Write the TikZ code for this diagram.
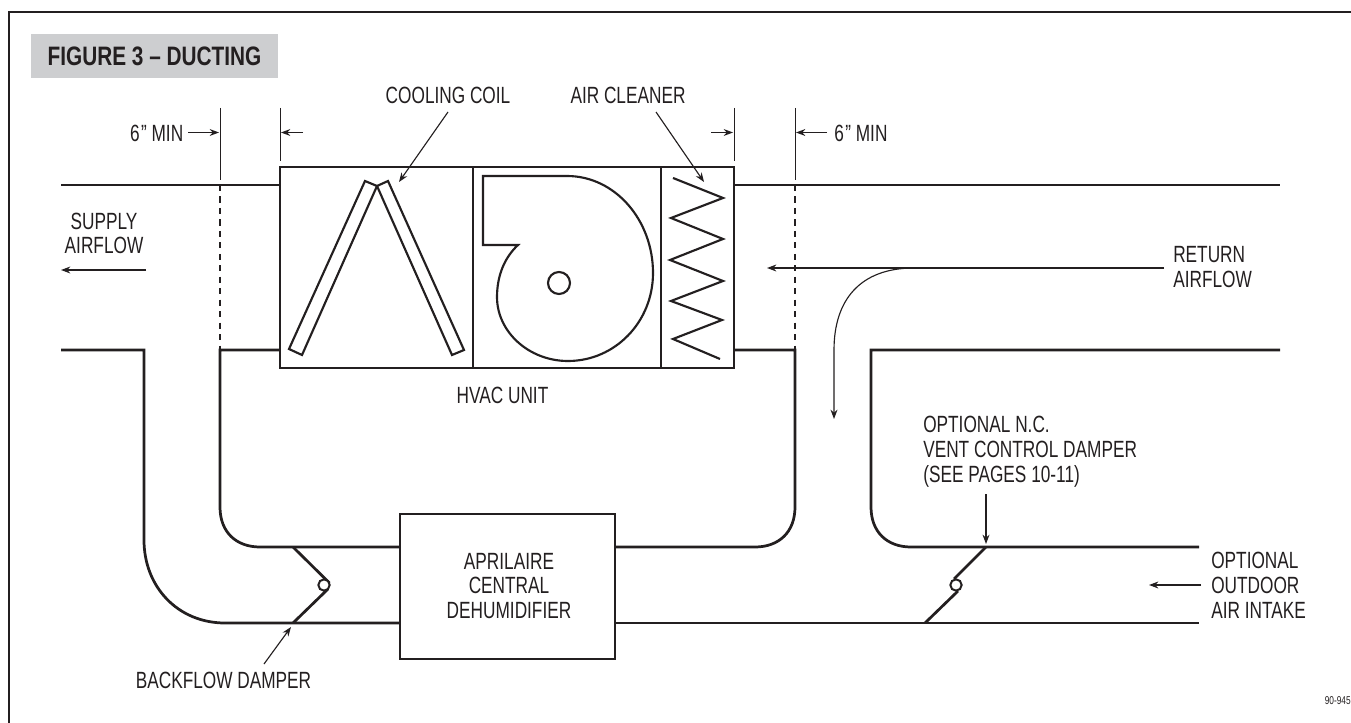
\documentclass[tikz,border=0pt]{standalone}
\usepackage{fontspec}
\usetikzlibrary{arrows.meta}
\newfontfamily\ductfont[FakeStretch=0.735]{Liberation Sans}
\newfontfamily\ductbold[FakeStretch=0.78]{Liberation Sans Bold}
\definecolor{titlegray}{HTML}{CDCED0}
\definecolor{inkdark}{HTML}{231F20}
\def\yTop{185}
\def\yLow{350}
\def\yBra{547}
\def\yBrb{623}
\def\xSup{220}
\def\xRet{795}
\tikzset{
  duct/.style={line width=2.05pt, draw=inkdark, line join=miter},
  thinwall/.style={line width=1.6pt, draw=inkdark, line join=miter},
  cutline/.style={duct, dash pattern=on 4.6pt off 4pt},
  extline/.style={line width=0.75pt, draw=inkdark},
  leader/.style={line width=0.85pt, draw=inkdark, -{Stealth[length=7pt,width=5.2pt]}},
  lbl/.style={font=\ductfont\fontsize{17.6}{18.6}\selectfont, text=inkdark, inner sep=0pt, align=center},
  lbll/.style={lbl, align=left},
  unitbox/.style={duct, fill=white, rectangle, inner sep=0pt},
  pivot/.style={circle, line width=1.5pt, draw=inkdark, fill=white, inner sep=0pt, minimum size=8.5pt},
}
\newcommand{\leadline}[3]{%
  \coordinate (#1a) at #2;
  \coordinate (#1b) at #3;
  \draw[leader] (#1a) -- (#1b);}
\newcommand{\sixmin}{6\kern1.2pt”\kern3.5pt MIN}
\begin{document}
\begin{tikzpicture}[x=0.75pt,y=-0.75pt]
  \useasboundingbox (0,0) rectangle (1351,723);
  \draw[line width=2.2pt, draw=inkdark] (9,723) -- (9,12) -- (1351,12);
  \node[fill=titlegray, minimum width=185.25pt, minimum height=33pt, inner sep=0pt] (titlebar) at (154.5,56) {};
  \node[font=\ductbold\fontsize{20}{22}\selectfont, text=inkdark, inner sep=0pt] (titletext) at (154.5,56.5) {FIGURE 3 – DUCTING};

  \draw[duct] (61,\yTop) -- (280,\yTop);
  \draw[duct] (734,\yTop) -- (1280,\yTop);
  \draw[duct] (61,\yLow) -- (144,\yLow) -- (144,540) .. controls (144,587) and (178,\yBrb) .. (225,\yBrb) -- (400,\yBrb);
  \draw[duct] (280,\yLow) -- (\xSup,\yLow) -- (\xSup,507) .. controls (\xSup,532) and (236,\yBra) .. (260,\yBra) -- (400,\yBra);
  \draw[duct] (734,\yLow) -- (\xRet,\yLow) -- (\xRet,507) .. controls (\xRet,532) and (779,\yBra) .. (755,\yBra) -- (615,\yBra);
  \draw[duct] (1280,\yLow) -- (871,\yLow) -- (871,507) .. controls (871,532) and (887,\yBra) .. (911,\yBra) -- (1199,\yBra);
  \draw[duct] (615,\yBrb) -- (1199,\yBrb);
  \draw[cutline] (\xSup,\yTop) -- (\xSup,\yLow);
  \draw[cutline] (\xRet,\yTop) -- (\xRet,\yLow);

  \node[unitbox, minimum width=340.5pt, minimum height=150.75pt] (hvac) at (507,267.5) {};
  \draw[duct] (473,167) -- (473,368);
  \draw[duct] (661,167) -- (661,368);
  \node[unitbox, minimum width=161.25pt, minimum height=108.75pt] (dehum) at (507.5,586.5) {};

  \draw[thinwall] (377,186) -- (365,181) -- (289,349) -- (302,355) -- cycle;
  \draw[thinwall] (377,186) -- (388,181) -- (464,350) -- (452,355) -- cycle;
  \draw[thinwall] (483,245) -- (483,176) -- (567,176) .. controls (615,176) and (653,220) .. (653,273)
    .. controls (653,322) and (615,361) .. (568,361) .. controls (529,361) and (497,332) .. (497,297)
    .. controls (497,275) and (505,257) .. (518,245) -- cycle;
  \node[circle, thinwall, inner sep=0pt, minimum size=16.5pt] (fanhub) at (559,283) {};
  \draw[thinwall] (673,178) -- (723,198) -- (671,218) -- (723,239) -- (670,260) -- (723,281)
    -- (671,301) -- (722,320) -- (673,339) -- (720,359);

  \draw[duct] (293,\yBra) -- (329.5,583);
  \draw[duct] (293,\yBrb) -- (328,589);
  \node[pivot] (backpivot) at (324,585) {};
  \draw[duct] (986,\yBra) -- (954,579);
  \draw[duct] (925,\yBrb) -- (958,591);
  \node[pivot] (ventpivot) at (956,585) {};

  \draw[extline] (\xSup,108) -- (\xSup,180);
  \draw[extline] (280,108) -- (280,161);
  \draw[extline] (734,108) -- (734,161);
  \draw[extline] (\xRet,108) -- (\xRet,180);

  \node[lbl, anchor=east] (minleft) at (183.5,133) {\sixmin};
  \node[lbl, anchor=west] (minright) at (834,133) {\sixmin};
  \node[lbl] (coillbl) at (448,95) {COOLING COIL};
  \node[lbl] (cleanerlbl) at (628,95) {AIR CLEANER};
  \node[lbl] (supplylbl) at (104,233.5) {SUPPLY\\AIRFLOW};
  \node[lbl] (hvaclbl) at (502.5,395) {HVAC UNIT};
  \node[lbll, anchor=west] (returnlbl) at (1173,267) {RETURN\\AIRFLOW};
  \node[lbl] (dehumlbl) at (509,586) {APRILAIRE\\CENTRAL\\DEHUMIDIFIER};
  \node[lbl] (backlbl) at (223.5,680) {BACKFLOW DAMPER};
  \node[lbll, anchor=west] (ventlbl) at (923,452) {OPTIONAL N.C.\\VENT CONTROL DAMPER\\(SEE PAGES 10-11)};
  \node[lbll, anchor=west] (outdoorlbl) at (1211,585.5) {OPTIONAL\\OUTDOOR\\AIR INTAKE};
  \node[font=\ductfont\fontsize{8.5}{10}\selectfont, text=inkdark, inner sep=0pt, anchor=east] (partno) at (1351,701) {90-945};

  \leadline{minl}{(188,132.5)}{(219,132.5)}
  \leadline{minm}{(303,132.5)}{(281,132.5)}
  \leadline{minn}{(711,132.5)}{(733,132.5)}
  \leadline{minr}{(827,132.5)}{(796,132.5)}
  \leadline{coil}{(448,112)}{(399,182)}
  \leadline{clean}{(656,112)}{(704,182)}
  \leadline{supply}{(146,270)}{(61,270)}
  \leadline{retn}{(1164,268)}{(767,268)}
  \coordinate (bendfrom) at (914,268);
  \coordinate (bendto) at (834,419);
  \draw[leader] (bendfrom) .. controls (860,268) and (834,300) .. (834,350) -- (bendto);
  \leadline{back}{(264,664)}{(291,627)}
  \leadline{vent}{(986,494)}{(986,544)}
  \leadline{outdoor}{(1201,585)}{(1149,585)}
\end{tikzpicture}
\end{document}
